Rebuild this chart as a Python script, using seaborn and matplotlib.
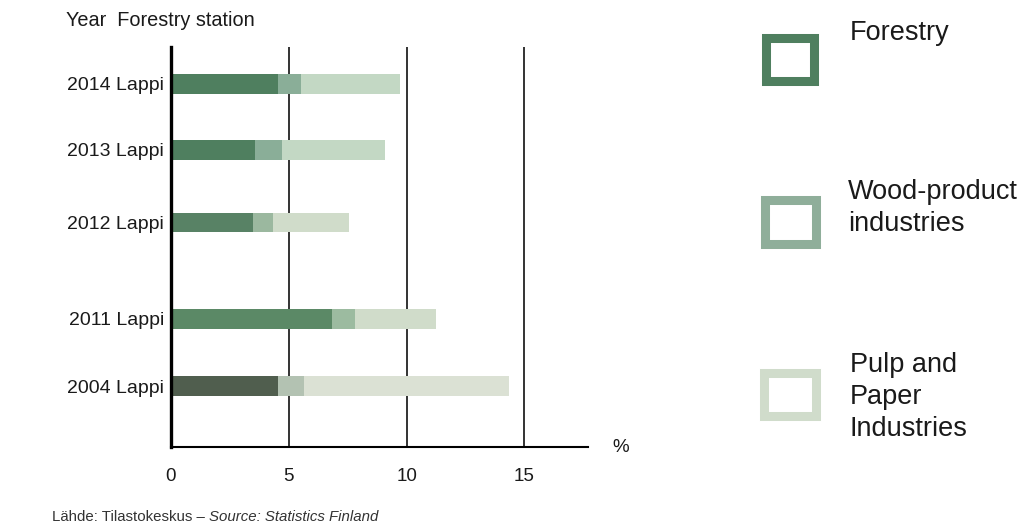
import matplotlib
matplotlib.use('Agg')
import matplotlib.pyplot as plt
import pandas as pd
import seaborn as sns
from matplotlib.patches import Rectangle

# data (percent share)
years = ['2014', '2013', '2012', '2011', '2004']
station = 'Lappi'
forestry = [4.55, 3.55, 3.5, 6.85, 4.55]
wood_products = [0.95, 1.15, 0.85, 0.95, 1.1]
pulp_paper = [4.2, 4.4, 3.2, 3.45, 8.7]
x_ticks = [0, 5, 10, 15]
legend_labels = ['Forestry', 'Wood-product\nindustries', 'Pulp and\nPaper\nIndustries']

# layout: row centres (bigger gap between 2012 and 2011)
row_pos = [0, 1, 2.1, 3.56, 4.58]

# colours per bar (the 2004 bar is greyer)
forestry_cols = dict(zip(years, ['#4f7f5f', '#4f7f5f', '#588265', '#5b8966', '#505e4e']))
wood_cols = dict(zip(years, ['#8aae98', '#8aae98', '#9bb89f', '#9cbba0', '#b3c2b2']))
pulp_cols = dict(zip(years, ['#c3d8c4', '#c3d8c4', '#d0dcca', '#d0dcca', '#dbe1d4']))
legend_cols = ['#4f7f5f', '#8fae9a', '#d0dccb']

df = pd.DataFrame({'year': years, 'pos': row_pos, 'forestry': forestry,
                   'wood': wood_products, 'pulp': pulp_paper})
df['wood_end'] = df['forestry'] + df['wood']
df['pulp_end'] = df['wood_end'] + df['pulp']

sns.set_theme(style='white')
plt.rcParams['font.family'] = ['Liberation Sans', 'DejaVu Sans']
txt = '#1a1a1a'

W, H = 1027, 524
fig = plt.figure(figsize=(W / 100, H / 100), dpi=100)
ax = fig.add_axes([171 / W, 1 - 447 / H, (588 - 171) / W, (447 - 47) / H])

# stacked bars: draw the running totals from the longest to the shortest
for col, pal in [('pulp_end', pulp_cols), ('wood_end', wood_cols), ('forestry', forestry_cols)]:
    sns.barplot(data=df, x=col, y='pos', hue='year', palette=pal, orient='h',
                native_scale=True, width=0.3, dodge=False, legend=False,
                saturation=1, linewidth=0, ax=ax)

ax.set_xlim(0, 17.7)
ax.set_ylim(5.5, -0.56)
ax.set_xticks(x_ticks, [str(t) for t in x_ticks])
ax.set_yticks(row_pos, [f'{y} {station}' for y in years])
ax.set_xlabel('')
ax.set_ylabel('')
ax.tick_params(axis='x', length=0, pad=15, labelsize=13.5, labelcolor=txt)
ax.tick_params(axis='y', length=0, pad=5, labelsize=14, labelcolor=txt)

for s in ['top', 'right']:
    ax.spines[s].set_visible(False)
ax.spines['left'].set_color('black')
ax.spines['left'].set_linewidth(2.4)
ax.spines['bottom'].set_color('black')
ax.spines['bottom'].set_linewidth(1.5)
ax.grid(axis='x', color='#111111', linewidth=1.2)
ax.grid(axis='y', visible=False)
ax.set_axisbelow(True)

fig.text(66 / W, 1 - 20 / H, 'Year  Forestry station', size=14.3, va='center', color=txt)
fig.text(621 / W, 1 - 447 / H, '%', size=13.5, va='center', ha='center', color=txt)

# legend: hollow squares with text to the right
boxes = [(765.5, 37.5, 48, 43), (764.5, 199.5, 51, 44), (763.5, 372.5, 52, 43)]
text_pos = [(850, 33), (848, 208), (850, 397)]
for (bx, by, bw, bh), c, lab, (tx, ty) in zip(boxes, legend_cols, legend_labels, text_pos):
    fig.add_artist(Rectangle((bx / W, 1 - (by + bh) / H), bw / W, bh / H,
                             transform=fig.transFigure, fill=False,
                             edgecolor=c, linewidth=6.5, joinstyle='miter'))
    fig.text(tx / W, 1 - ty / H, lab, size=19.5, va='center', ha='left',
             linespacing=1.28, color=txt)

# source line
src = fig.text(52 / W, 1 - 517 / H, 'Lähde: Tilastokeskus – ', size=10.8,
               va='center', color='#333333')
fig.canvas.draw()
bb = src.get_window_extent()
fig.text(bb.x1 / W, 1 - 517 / H, 'Source: Statistics Finland', size=10.8,
         va='center', style='italic', color='#333333')

fig.savefig('out.png', dpi=100)
